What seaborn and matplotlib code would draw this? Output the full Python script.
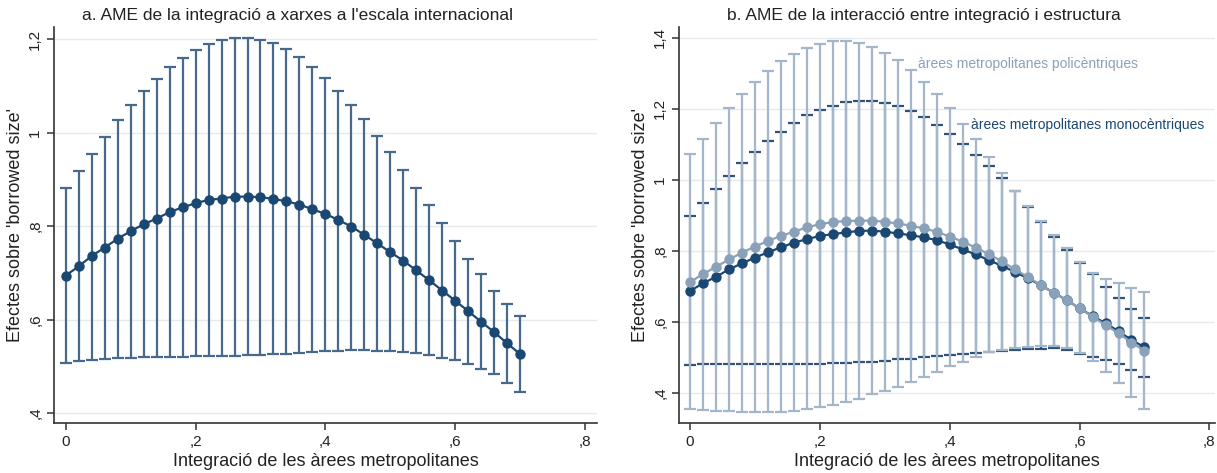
import matplotlib
matplotlib.use('Agg')
import pandas as pd
import matplotlib.pyplot as plt
import seaborn as sns
from matplotlib.ticker import FuncFormatter

sns.set_theme(style='white')
plt.rcParams['font.family'] = ['Liberation Sans', 'DejaVu Sans']

# valors d'integració (eix x)
integracio = [0, 0.02, 0.04, 0.06, 0.08, 0.10, 0.12, 0.14, 0.16, 0.18,
              0.20, 0.22, 0.24, 0.26, 0.28, 0.30, 0.32, 0.34, 0.36, 0.38,
              0.40, 0.42, 0.44, 0.46, 0.48, 0.50, 0.52, 0.54, 0.56, 0.58,
              0.60, 0.62, 0.64, 0.66, 0.68, 0.70]

# panell a : AME integració
ame_a = [0.694, 0.714, 0.736, 0.754, 0.773, 0.789, 0.804, 0.816, 0.830, 0.840,
         0.849, 0.856, 0.859, 0.863, 0.863, 0.862, 0.858, 0.853, 0.846, 0.836,
         0.826, 0.813, 0.799, 0.781, 0.763, 0.744, 0.726, 0.705, 0.684, 0.662,
         0.640, 0.618, 0.595, 0.573, 0.549, 0.526]
sup_a = [0.881, 0.918, 0.955, 0.991, 1.027, 1.058, 1.089, 1.114, 1.140, 1.160,
         1.177, 1.190, 1.198, 1.202, 1.202, 1.199, 1.191, 1.178, 1.161, 1.141,
         1.117, 1.090, 1.060, 1.029, 0.993, 0.958, 0.920, 0.882, 0.845, 0.806,
         0.768, 0.729, 0.697, 0.662, 0.634, 0.607]
inf_a = [0.508, 0.511, 0.514, 0.516, 0.517, 0.518, 0.519, 0.519, 0.520, 0.520,
         0.521, 0.522, 0.522, 0.523, 0.524, 0.525, 0.526, 0.527, 0.529, 0.530,
         0.532, 0.533, 0.534, 0.534, 0.533, 0.532, 0.531, 0.528, 0.524, 0.518,
         0.513, 0.506, 0.494, 0.483, 0.465, 0.446]

# panell b : monocèntriques
ame_mono = [0.687, 0.709, 0.727, 0.748, 0.765, 0.781, 0.796, 0.810, 0.823, 0.833,
            0.842, 0.847, 0.852, 0.856, 0.857, 0.854, 0.849, 0.844, 0.838, 0.830,
            0.818, 0.804, 0.790, 0.774, 0.758, 0.741, 0.723, 0.704, 0.682, 0.662,
            0.638, 0.617, 0.596, 0.574, 0.549, 0.529]
sup_mono = [0.898, 0.936, 0.974, 1.011, 1.046, 1.078, 1.108, 1.135, 1.159, 1.181,
            1.196, 1.209, 1.218, 1.221, 1.221, 1.216, 1.207, 1.193, 1.176, 1.154,
            1.130, 1.102, 1.071, 1.039, 1.004, 0.969, 0.924, 0.880, 0.838, 0.802,
            0.765, 0.734, 0.697, 0.666, 0.636, 0.612]
inf_mono = [0.480, 0.481, 0.481, 0.482, 0.482, 0.482, 0.482, 0.482, 0.482, 0.482,
            0.483, 0.484, 0.485, 0.487, 0.488, 0.491, 0.495, 0.497, 0.500, 0.504,
            0.507, 0.510, 0.512, 0.515, 0.519, 0.521, 0.524, 0.525, 0.527, 0.522,
            0.511, 0.500, 0.493, 0.481, 0.465, 0.446]

# panell b : policèntriques
ame_poli = [0.712, 0.735, 0.755, 0.776, 0.795, 0.812, 0.828, 0.842, 0.854, 0.866,
            0.875, 0.881, 0.884, 0.885, 0.885, 0.882, 0.877, 0.871, 0.863, 0.854,
            0.840, 0.826, 0.809, 0.791, 0.771, 0.748, 0.727, 0.704, 0.682, 0.662,
            0.638, 0.615, 0.591, 0.568, 0.542, 0.519]
sup_poli = [1.073, 1.116, 1.160, 1.203, 1.240, 1.274, 1.307, 1.334, 1.354, 1.371,
            1.382, 1.390, 1.391, 1.385, 1.373, 1.357, 1.336, 1.309, 1.276, 1.240,
            1.201, 1.158, 1.114, 1.065, 1.019, 0.969, 0.926, 0.885, 0.844, 0.807,
            0.768, 0.737, 0.721, 0.709, 0.695, 0.683]
inf_poli = [0.355, 0.352, 0.350, 0.348, 0.346, 0.346, 0.346, 0.347, 0.350, 0.354,
            0.360, 0.366, 0.374, 0.383, 0.396, 0.406, 0.418, 0.432, 0.446, 0.460,
            0.476, 0.488, 0.502, 0.514, 0.521, 0.526, 0.530, 0.532, 0.532, 0.526,
            0.512, 0.490, 0.460, 0.427, 0.390, 0.354]

NAVY = '#1b4872'
CI_A = '#46698c'
MONO_CI = '#2f5378'
POLI = '#8aa1ba'
POLI_CI = '#a3b6ca'


def coma(v, pos):  # format decimal català: ,2  1,2
    s = f'{v:g}'
    if s.startswith('0.'):
        s = s[1:]
    return s.replace('.', ',')


def ci(ax, x, mid, lo, hi, color, lw=1.6, cap=4.5):
    df = pd.DataFrame({'x': x, 'mid': mid, 'lo': lo, 'hi': hi})
    ax.errorbar(df['x'], df['mid'], yerr=[df['mid'] - df['lo'], df['hi'] - df['mid']],
                fmt='none', ecolor=color, elinewidth=lw, capsize=cap, capthick=lw)


def linia(ax, x, y, color):
    df = pd.DataFrame({'x': x, 'y': y})
    sns.lineplot(data=df, x='x', y='y', ax=ax, color=color, marker='o',
                 markersize=7.5, markeredgewidth=0, linewidth=1.6)


def estil(ax, ylim, yticks):
    ax.set_xlim(-0.018, 0.818)
    ax.set_ylim(*ylim)
    ax.set_xticks([0, 0.2, 0.4, 0.6, 0.8])
    ax.set_yticks(yticks)
    ax.xaxis.set_major_formatter(FuncFormatter(coma))
    ax.yaxis.set_major_formatter(FuncFormatter(coma))
    ax.grid(axis='y', color='#e6eaee', linewidth=1.0)
    ax.set_axisbelow(True)
    for s in ['top', 'right']:
        ax.spines[s].set_visible(False)
    for s in ['left', 'bottom']:
        ax.spines[s].set_color('#333333')
        ax.spines[s].set_linewidth(1.2)
    ax.tick_params(axis='both', direction='out', length=5, width=1.1, color='#333333',
                   labelsize=11, labelcolor='#222222', bottom=True, left=True)
    for lab in ax.get_yticklabels():
        lab.set_rotation(90)
        lab.set_va('center')
    ax.set_xlabel('Integració de les àrees metropolitanes', fontsize=13, color='#222222', labelpad=3)
    ax.set_ylabel("Efectes sobre 'borrowed size'", fontsize=13, color='#222222', labelpad=3)


fig = plt.figure(figsize=(12.17, 4.73), dpi=100)
ax1 = fig.add_axes([0.0444, 0.106, 0.446, 0.837])
ax2 = fig.add_axes([0.558, 0.106, 0.440, 0.837])

# panell a
ci(ax1, integracio, ame_a, inf_a, sup_a, CI_A)
linia(ax1, integracio, ame_a, NAVY)
estil(ax1, (0.379, 1.226), [0.4, 0.6, 0.8, 1.0, 1.2])

# panell b
ci(ax2, integracio, ame_mono, inf_mono, sup_mono, MONO_CI)
ci(ax2, integracio, ame_poli, inf_poli, sup_poli, POLI_CI)
linia(ax2, integracio, ame_mono, NAVY)
linia(ax2, integracio, ame_poli, POLI)
estil(ax2, (0.316, 1.43), [0.4, 0.6, 0.8, 1.0, 1.2, 1.4])
ax2.set_xlim(-0.017, 0.808)

ax2.text(0.351, 1.327, 'àrees metropolitanes policèntriques', color=POLI, fontsize=10, va='center')
ax2.text(0.432, 1.154, 'àrees metropolitanes monocèntriques', color=NAVY, fontsize=10, va='center')

fig.text(298 / 1217, 0.968, "a. AME de la integració a xarxes a l'escala internacional",
         ha='center', va='center', fontsize=12.5, color='#222222')
fig.text(924 / 1217, 0.968, 'b. AME de la interacció entre integració i estructura',
         ha='center', va='center', fontsize=12.5, color='#222222')

fig.savefig('out.png', dpi=100)
